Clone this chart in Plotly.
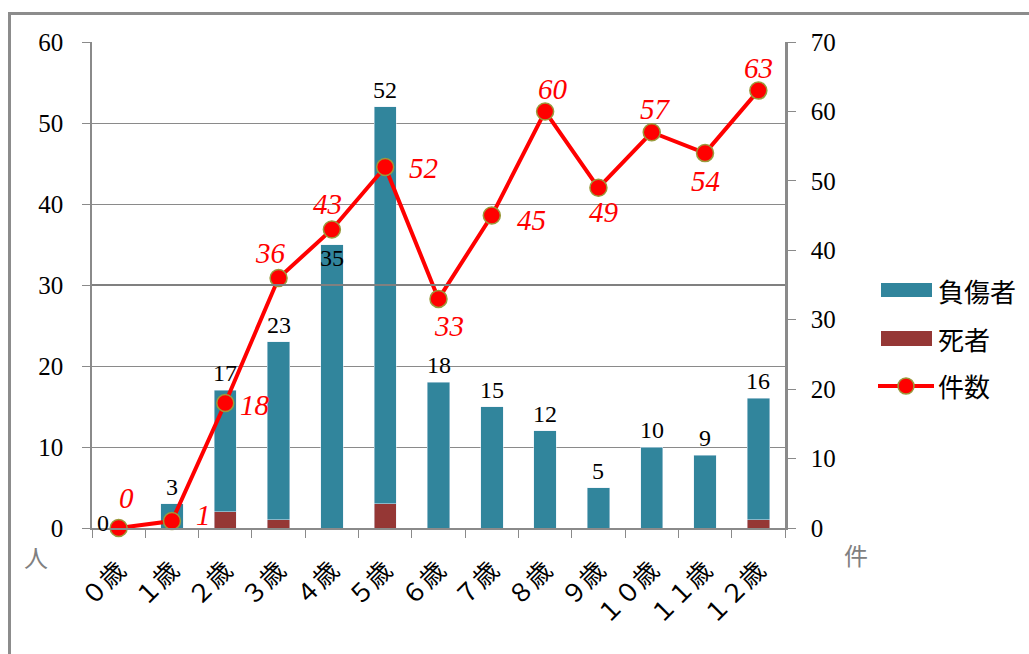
import plotly.graph_objects as go

# --- data ---------------------------------------------------------------
ages = ["０歳", "１歳", "２歳", "３歳", "４歳", "５歳", "６歳",
        "７歳", "８歳", "９歳", "１０歳", "１１歳", "１２歳"]
injured = [0, 3, 15, 22, 35, 49, 18, 15, 12, 5, 10, 9, 15]
deaths = [0, 0, 2, 1, 0, 3, 0, 0, 0, 0, 0, 0, 1]
cases = [0, 1, 18, 36, 43, 52, 33, 45, 60, 49, 57, 54, 63]
totals = [a + b for a, b in zip(injured, deaths)]

# --- style ----------------------------------------------------------------
TEAL = "#31859C"
DARKRED = "#953735"
RED = "#FF0000"
GRID = "#8a8a8a"
SERIF = "Liberation Serif, Noto Sans CJK JP, serif"
CJK = "Noto Sans CJK JP, sans-serif"

W, H = 1029, 654
L, R, T, B = 92, 785, 42, 528   # plot area in pixels


def px(x):
    return (x - L) / (R - L)


def py(y):
    return (B - y) / (B - T)


fig = go.Figure()

fig.add_trace(go.Bar(x=ages, y=deaths, name="死者", marker_color=DARKRED,
                     width=0.42, showlegend=False))
fig.add_trace(go.Bar(x=ages, y=injured, name="負傷者", marker_color=TEAL,
                     width=0.42, showlegend=False))
fig.add_trace(go.Scatter(x=ages, y=cases, name="件数", yaxis="y2",
                         mode="lines+markers",
                         line=dict(color=RED, width=4),
                         marker=dict(color=RED, size=17,
                                     line=dict(color="#9a9a3c", width=1.5)),
                         cliponaxis=False, showlegend=False))

annotations = []

# totals above each bar
bar_shift = {0: (-16, -10), 4: (0, -28)}
for i, (cat, tot) in enumerate(zip(ages, totals)):
    dx, dy = bar_shift.get(i, (0, 2))
    annotations.append(dict(x=cat, y=tot, xref="x", yref="y", text=str(tot),
                            showarrow=False, yanchor="bottom",
                            xshift=dx, yshift=dy,
                            font=dict(family=SERIF, size=24, color="black")))

# case counts next to the markers
case_shift = [(8, 30), (32, 6), (30, -2), (-8, 25), (-4, 25), (38, -1),
              (10, -27), (40, -4), (8, 22), (6, -24), (4, 23), (0, -28),
              (0, 23)]
for cat, v, (dx, dy) in zip(ages, cases, case_shift):
    annotations.append(dict(x=cat, y=v, xref="x", yref="y2",
                            text="<i>%d</i>" % v, showarrow=False,
                            xanchor="center", yanchor="middle",
                            xshift=dx, yshift=dy,
                            font=dict(family=SERIF, size=29, color=RED)))

# axis unit labels
annotations.append(dict(x=px(36), y=py(556), xref="paper", yref="paper",
                        text="人", showarrow=False,
                        xanchor="center", yanchor="middle",
                        font=dict(family=CJK, size=24, color="#808080")))
annotations.append(dict(x=px(856), y=py(554), xref="paper", yref="paper",
                        text="件", showarrow=False,
                        xanchor="center", yanchor="middle",
                        font=dict(family=CJK, size=24, color="#808080")))

# legend entries
legend_rows = [("負傷者", 290), ("死者", 338), ("件数", 385)]
for label, yc in legend_rows:
    annotations.append(dict(x=px(936), y=py(yc), xref="paper", yref="paper",
                            text=label, showarrow=False,
                            xanchor="left", yanchor="middle",
                            font=dict(family=CJK, size=26, color="black")))

shapes = [
    # outer frame
    dict(type="rect", xref="paper", yref="paper",
         x0=px(9.5), x1=px(1200), y0=py(800), y1=py(13.5),
         line=dict(color="#8c8c8c", width=3), layer="below"),
    # heavier rule at 30
    dict(type="line", xref="paper", yref="y", x0=0, x1=1, y0=30, y1=30,
         line=dict(color="#808080", width=2)),
    # legend keys
    dict(type="rect", xref="paper", yref="paper",
         x0=px(881), x1=px(932), y0=py(297), y1=py(283),
         fillcolor=TEAL, line=dict(width=0)),
    dict(type="rect", xref="paper", yref="paper",
         x0=px(881), x1=px(932), y0=py(346), y1=py(331),
         fillcolor=DARKRED, line=dict(width=0)),
    dict(type="line", xref="paper", yref="paper",
         x0=px(878), x1=px(934), y0=py(386), y1=py(386),
         line=dict(color=RED, width=4)),
    dict(type="circle", xref="paper", yref="paper",
         x0=px(898), x1=px(914), y0=py(394), y1=py(378),
         fillcolor=RED, line=dict(color="#9a9a3c", width=1.5)),
]

fig.update_layout(
    width=W, height=H,
    margin=dict(l=L, r=W - R, t=T, b=H - B, pad=0),
    paper_bgcolor="white", plot_bgcolor="white",
    barmode="stack", bargap=0.58,
    showlegend=False,
    annotations=annotations, shapes=shapes,
    xaxis=dict(type="category", range=[-0.5, len(ages) - 0.5],
               showline=True, linecolor=GRID, linewidth=1.5,
               ticks="outside", ticklen=8, tickcolor=GRID,
               tickson="boundaries", tickangle=-45, showgrid=False,
               ticklabelstandoff=16, ticklabelshift=0,
               tickfont=dict(family=SERIF, size=25, color="black")),
    yaxis=dict(range=[0, 60], dtick=10, showline=True, linecolor=GRID,
               linewidth=1.5, ticks="outside", ticklen=8, tickcolor=GRID,
               showgrid=True, gridcolor=GRID, gridwidth=1,
               zeroline=False, ticklabelstandoff=14,
               tickfont=dict(family=SERIF, size=25, color="black")),
    yaxis2=dict(range=[0, 70], dtick=10, overlaying="y", side="right",
                showline=True, linecolor=GRID, linewidth=2.5,
                ticks="outside", ticklen=8, tickcolor=GRID,
                showgrid=False, zeroline=False, ticklabelstandoff=10,
                tickfont=dict(family=SERIF, size=25, color="black")),
)

fig.write_html("out.html")
